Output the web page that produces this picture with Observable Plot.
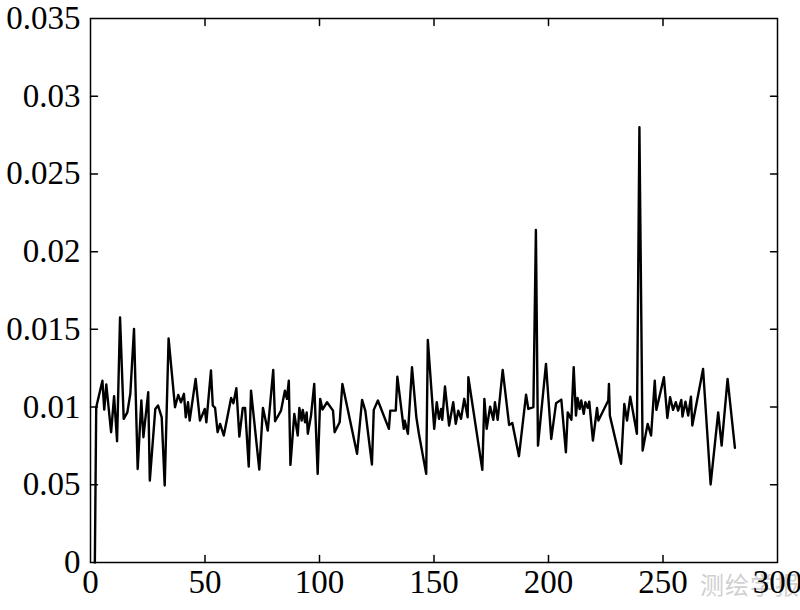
<!DOCTYPE html>
<html>
<head>
<meta charset="utf-8">
<script src="https://cdn.jsdelivr.net/npm/d3@7"></script>
<script src="https://cdn.jsdelivr.net/npm/@observablehq/plot@0.6"></script>
<style>
  html, body { margin: 0; padding: 0; background: #fff; }
  #wrap { position: relative; width: 800px; height: 610px; }
  #wm { position: absolute; left: 700px; top: 566px; font-family: "Noto Sans CJK SC", sans-serif; font-size: 24px; color: #d0d0d0; letter-spacing: 1px; z-index: 0; }
  #chart { position: absolute; left: 0; top: 0; z-index: 1; }
  #chart svg { background: transparent !important; }
</style>
</head>
<body>
<div id="wrap">
  <div id="wm">测绘学报</div>
  <div id="chart"></div>
</div>
<script>
// x positions (sample index)
const xs = [1.9, 2.5, 5.2, 6.0, 6.9, 9.0, 10.3, 11.6, 12.9, 14.5, 16.1, 17.4, 19.0, 20.6, 22.2, 23.1, 25.2, 25.9, 28.3, 29.5, 31.1, 32.4, 34.1, 36.9, 38.3, 39.5, 40.8, 41.6, 42.6, 43.3, 45.9, 47.8, 49.9, 50.6,
  52.6, 53.4, 54.4, 55.5, 56.6, 58.2, 61.4, 62.4, 63.7, 65.0, 66.5, 67.5, 69.1, 70.1, 73.7, 75.3, 77.4, 79.8, 80.6, 83.2, 84.9, 85.8, 86.6, 87.3, 89.0, 90.5, 91.2, 92.2, 92.7, 93.7, 94.4, 94.9, 96.3, 97.7, 99.2,
  100.3, 101.3, 103.3, 105.9, 106.6, 108.8, 110.0, 116.4, 118.6, 120.0, 122.9, 123.7, 125.5, 130.3, 130.9, 133.3, 134.0, 136.8, 137.2, 138.6, 140.4, 142.3, 143.4, 146.6, 147.3,
  150.1, 151.2, 152.2, 153.1, 153.6, 154.8, 156.6, 158.4, 159.5, 160.6, 161.8, 163.2, 164.7, 165.0, 171.1, 172.0, 173.0, 174.5, 175.9, 176.6, 177.8, 180.0, 182.8, 184.2, 187.1, 190.2, 191.2, 193.4, 194.5, 195.4,
  198.9, 201.2, 203.3, 205.6, 207.6, 208.4, 210.0, 211.0, 212.0, 212.7, 213.6, 214.3, 215.4, 216.1, 217.1, 217.8, 219.4, 221.2, 221.8, 226.1, 226.4, 226.8, 231.7, 233.1, 234.3, 235.7, 238.6, 239.7, 241.1,
  243.3, 244.8, 246.4, 247.1, 250.4, 251.9, 253.1, 254.4, 255.6, 256.6, 258.0, 258.5, 259.8, 261.0, 262.2, 262.8, 267.5, 270.8, 274.1, 275.6, 278.2, 281.4];
// series values
const ys = [0, 0.00999, 0.0117, 0.00984, 0.01145, 0.00838, 0.0107, 0.0078, 0.01577, 0.00924, 0.00966, 0.01087, 0.01503, 0.00602, 0.01042, 0.00806, 0.01095, 0.00527, 0.00988, 0.0101, 0.00934, 0.00495, 0.01442, 0.00999, 0.01078, 0.01031, 0.01085, 0.00934, 0.01031, 0.00913, 0.01181, 0.00913, 0.00988, 0.00902,
  0.01235, 0.0101, 0.00995, 0.00838, 0.00892, 0.00817, 0.01059, 0.01024, 0.01121, 0.0081, 0.00995, 0.00995, 0.00617, 0.01106, 0.00598, 0.00995, 0.00849, 0.01239, 0.00909, 0.00977, 0.01106, 0.01053, 0.0117, 0.00628, 0.00956, 0.00817, 0.00995, 0.00913, 0.00982, 0.00902, 0.00966, 0.00828, 0.00945, 0.01149, 0.0057,
  0.01053, 0.00984, 0.01031, 0.00977, 0.00838, 0.00902, 0.01149, 0.00699, 0.01046, 0.00977, 0.0063, 0.00982, 0.01042, 0.0086, 0.00977, 0.00977, 0.01196, 0.0086, 0.00913, 0.00828, 0.01256, 0.00934, 0.00828, 0.0057, 0.01432,
  0.0086, 0.01031, 0.00924, 0.00988, 0.00918, 0.01132, 0.00881, 0.01031, 0.00892, 0.00977, 0.00924, 0.01053, 0.00934, 0.01192, 0.00596, 0.01053, 0.0086, 0.01003, 0.00918, 0.01031, 0.00918, 0.01239, 0.00885, 0.00898, 0.00684, 0.0108, 0.00988, 0.00999, 0.0214, 0.00752,
  0.01278, 0.00795, 0.01024, 0.01048, 0.00709, 0.00966, 0.00918, 0.01256, 0.00945, 0.01059, 0.00988, 0.01042, 0.00956, 0.01031, 0.00995, 0.01035, 0.00784, 0.00995, 0.00913, 0.01042, 0.01149, 0.00945, 0.00635, 0.0102, 0.00913, 0.01067, 0.00828, 0.0280, 0.0072,
  0.00892, 0.00817, 0.0117, 0.00982, 0.01192, 0.0093, 0.01063, 0.00982, 0.01031, 0.00977, 0.01046, 0.00939, 0.01035, 0.00945, 0.01067, 0.00881, 0.01245, 0.00502, 0.00966, 0.00752, 0.01181, 0.00738];

const xTicks = [0, 50, 100, 150, 200, 250, 300];
const yTicks = [0, 0.005, 0.01, 0.015, 0.02, 0.025, 0.03, 0.035];
const yTickLabels = ["0", "0.05", "0.01", "0.015", "0.02", "0.025", "0.03", "0.035"];

const data = xs.map((x, i) => ({x, y: ys[i]}));
const yLabel = new Map(yTicks.map((t, i) => [t, yTickLabels[i]]));
const TK = 7; // inward tick length, px
const xMin = 0, xMax = 300, yMin = 0, yMax = 0.035;
const tickShape = {draw(context, l) { context.moveTo(0, 0); context.lineTo(0, -l); }};
const tickOpts = {length: TK, anchor: "start", shape: tickShape, stroke: "black", strokeWidth: 1.5};

const chart = Plot.plot({
  width: 800,
  height: 610,
  marginLeft: 90,
  marginRight: 23,
  marginTop: 18,
  marginBottom: 48,
  style: {fontFamily: "'Liberation Serif', 'Times New Roman', serif", fontSize: "33px", color: "black", background: "transparent"},
  x: {domain: [xMin, xMax], label: null},
  y: {domain: [yMin, yMax], label: null},
  marks: [
    Plot.line(data, {x: "x", y: "y", stroke: "black", strokeWidth: 2.4}),
    Plot.frame({stroke: "black", strokeWidth: 1.5}),
    // labels
    Plot.axisX({ticks: xTicks, label: null, tickSize: 0, tickPadding: 7, tickFormat: d => String(d)}),
    Plot.axisY({ticks: yTicks, label: null, tickSize: 0, tickPadding: 10, tickFormat: d => yLabel.get(d) ?? ""}),
    // inward tick marks on all four sides
    Plot.vector(xTicks.slice(1, -1), {x: d => d, y: () => yMin, rotate: 0, ...tickOpts}),
    Plot.vector(xTicks.slice(1, -1), {x: d => d, y: () => yMax, rotate: 180, ...tickOpts}),
    Plot.vector(yTicks.slice(1, -1), {x: () => xMin, y: d => d, rotate: 90, ...tickOpts}),
    Plot.vector(yTicks.slice(1, -1), {x: () => xMax, y: d => d, rotate: -90, ...tickOpts})
  ]
});
document.getElementById("chart").appendChild(chart);
</script>
</body>
</html>
